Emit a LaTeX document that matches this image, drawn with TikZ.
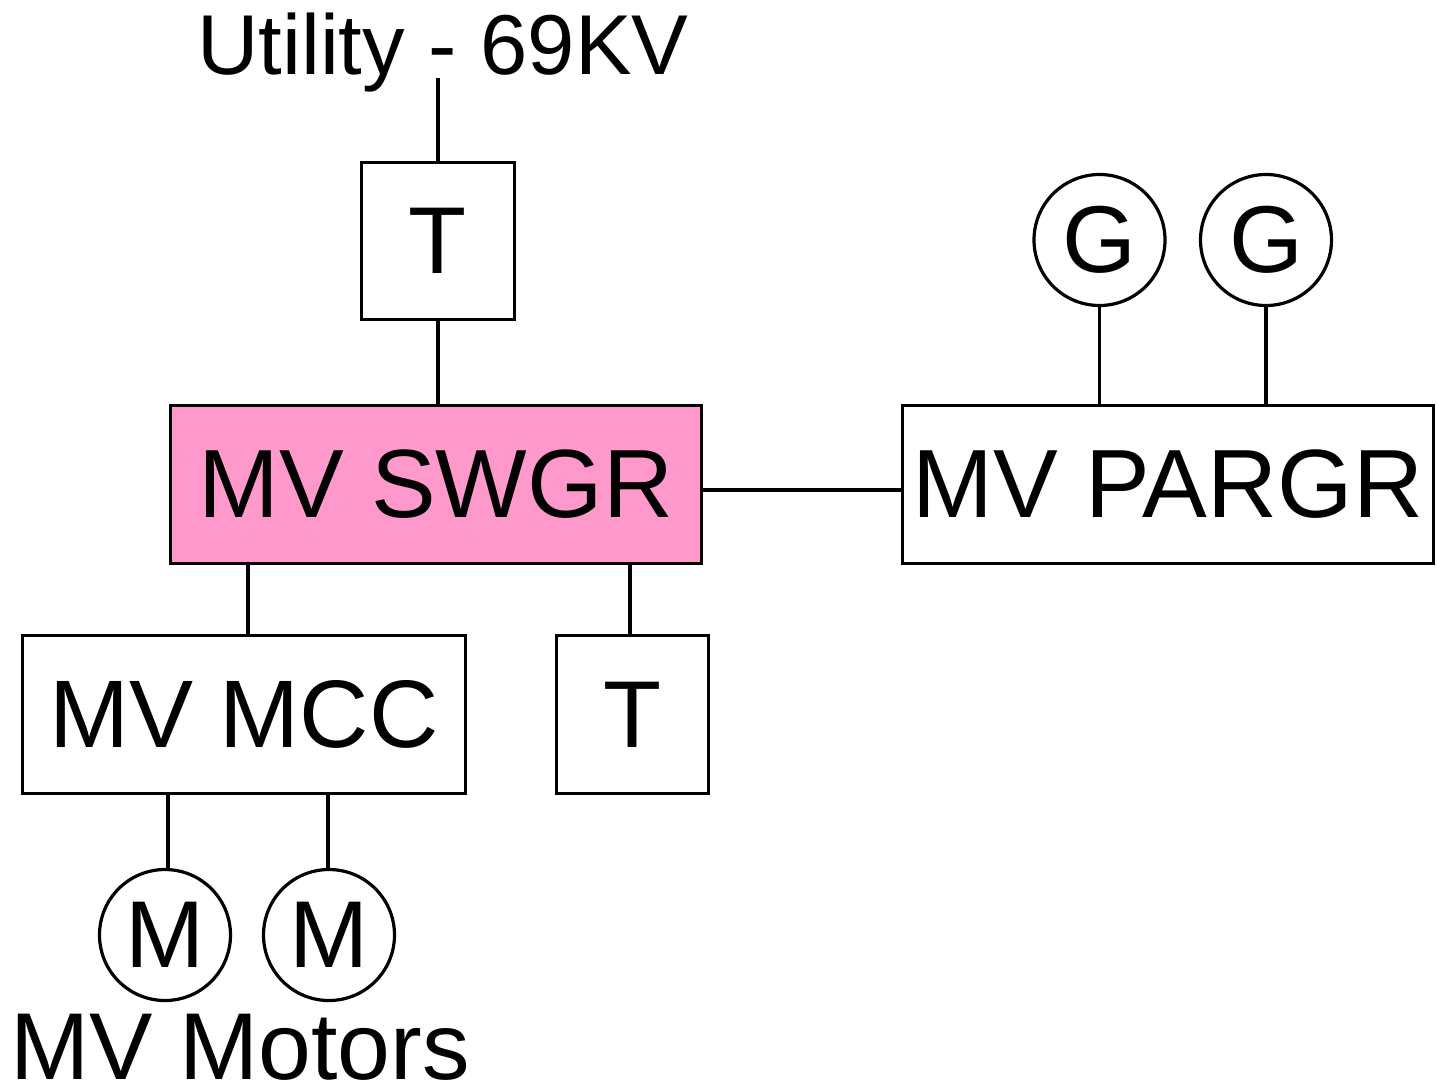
\documentclass[tikz,border=0pt]{standalone}
\usepackage{fontspec}
\setmainfont{Liberation Sans}
\definecolor{swgrpink}{HTML}{FF99CC}
\begin{document}
\begin{tikzpicture}[x=1pt,y=-1pt,
  every node/.style={inner sep=0pt,outer sep=0pt},
  line/.style={line width=3.2pt},
  box/.style={draw,line width=3.2pt,rectangle,font=\fontsize{97}{100}\selectfont},
  machine/.style={draw,line width=3.2pt,circle,minimum size=131pt,font=\fontsize{95}{100}\selectfont},
  lbl/.style={anchor=base}]
\useasboundingbox (0,0) rectangle (1437,1088);
\node[lbl,font=\fontsize{85}{90}\selectfont] (util) at (443,74) {Utility - 69KV};
\coordinate (utop) at (438,78);
\node[box,font=\fontsize{95}{100}\selectfont,minimum width=153pt,minimum height=157pt] (t1) at (438,241) {T};
\node[box,fill=swgrpink,minimum width=531pt,minimum height=158pt] (swgr) at (436,484.5) {MV SWGR};
\node[box,minimum width=531pt,minimum height=158pt] (pargr) at (1168,484.5) {MV PARGR};
\node[box,font=\fontsize{96}{100}\selectfont,minimum width=443pt,minimum height=158pt] (mcc) at (244,714.5) {MV MCC};
\node[box,font=\fontsize{95}{100}\selectfont,minimum width=152pt,minimum height=158pt] (t2) at (632.5,714.5) {T};
\node[machine] (g1) at (1099.5,240) {G};
\node[machine] (g2) at (1266,240) {G};
\node[machine] (m1) at (165,935) {M};
\node[machine] (m2) at (329,935) {M};
\node[lbl,font=\fontsize{95}{100}\selectfont] (motors) at (240,1079) {MV Motors};
\draw[line] (utop) -- (t1.north);
\draw[line] (t1.south) -- (t1.south |- swgr.north);
\draw[line] (swgr.east |- 0,490) -- (pargr.west |- 0,490);
\draw[line] (g1.south) -- (g1.south |- pargr.north);
\draw[line] (g2.south) -- (g2.south |- pargr.north);
\draw[line] (swgr.south -| 248,0) -- (mcc.north -| 248,0);
\draw[line] (swgr.south -| 630,0) -- (t2.north -| 630,0);
\draw[line] (mcc.south -| 168,0) -- (m1.north -| 168,0);
\draw[line] (mcc.south -| 328,0) -- (m2.north -| 328,0);
\end{tikzpicture}
\end{document}
